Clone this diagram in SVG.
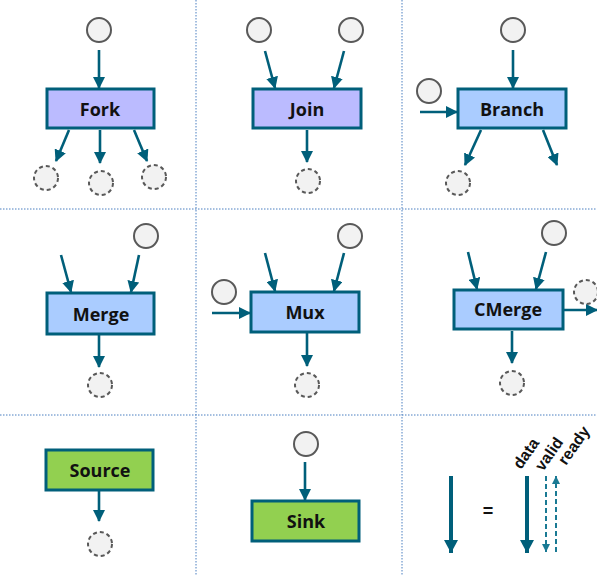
<svg xmlns="http://www.w3.org/2000/svg" width="597" height="575" viewBox="0 0 597 575">
<defs>
<style>
.grid{stroke:#4a7fc0;stroke-width:1;stroke-dasharray:1.5 1.5;fill:none}
.box{stroke:#005f7a;stroke-width:3}
.purple{fill:#bbbbff}
.blue{fill:#aaccff}
.green{fill:#92d050}
.lbl{font-family:"Open Sans","Noto Sans",sans-serif;font-weight:bold;font-size:18px;fill:#111;text-anchor:middle;dominant-baseline:central}
.in{fill:#f2f2f2;stroke:#595959;stroke-width:2}
.out{fill:#f2f2f2;stroke:#595959;stroke-width:2;stroke-dasharray:4 3}
.arr{stroke:#005f7a;stroke-width:2.6;fill:none;marker-end:url(#ah)}
.big{stroke:#005f7a;stroke-width:4;fill:none;marker-end:url(#bh)}
.dash{stroke:#1a7a94;stroke-width:2;stroke-dasharray:5 3;fill:none;marker-end:url(#sh)}
.leg{font-family:"Liberation Sans",Arial,sans-serif;font-weight:bold;font-size:16px;fill:#111}
</style>
<marker id="ah" markerUnits="userSpaceOnUse" markerWidth="12" markerHeight="12" viewBox="0 0 12 12" refX="11" refY="6" orient="auto"><path d="M0,0 L12,6 L0,12 Z" fill="#005f7a"/></marker>
<marker id="bh" markerUnits="userSpaceOnUse" markerWidth="14" markerHeight="14" viewBox="0 0 14 14" refX="13" refY="7" orient="auto"><path d="M0,0 L13,7 L0,14 Z" fill="#005f7a"/></marker>
<marker id="sh" markerUnits="userSpaceOnUse" markerWidth="8" markerHeight="8" viewBox="0 0 8 8" refX="8" refY="4" orient="auto"><path d="M0,0 L8,4 L0,8 Z" fill="#1a7a94"/></marker>
</defs>
<g id="grid">
<line class="grid" x1="196" y1="0" x2="196" y2="575"/>
<line class="grid" x1="402" y1="0" x2="402" y2="575"/>
<line class="grid" x1="0" y1="209" x2="597" y2="209"/>
<line class="grid" x1="0" y1="415" x2="597" y2="415"/>
</g>
<g id="connectors">
<line class="arr" x1="99" y1="50" x2="99" y2="88"/>
<line class="arr" x1="69" y1="130" x2="56" y2="161"/>
<line class="arr" x1="100" y1="130" x2="100" y2="163"/>
<line class="arr" x1="134" y1="130" x2="147" y2="161"/>
<line class="arr" x1="265" y1="51" x2="275" y2="88"/>
<line class="arr" x1="344" y1="51" x2="334" y2="88"/>
<line class="arr" x1="307" y1="130" x2="307" y2="162"/>
<line class="arr" x1="513" y1="50" x2="513" y2="88"/>
<line class="arr" x1="420" y1="112" x2="457" y2="112"/>
<line class="arr" x1="481" y1="130" x2="465" y2="165"/>
<line class="arr" x1="543" y1="130" x2="557" y2="165"/>
<line class="arr" x1="61" y1="255" x2="71" y2="292"/>
<line class="arr" x1="139" y1="255" x2="131" y2="292"/>
<line class="arr" x1="99" y1="335" x2="99" y2="367"/>
<line class="arr" x1="265" y1="253" x2="275" y2="291"/>
<line class="arr" x1="344" y1="253" x2="334" y2="291"/>
<line class="arr" x1="212" y1="313" x2="250" y2="313"/>
<line class="arr" x1="307" y1="333" x2="307" y2="366"/>
<line class="arr" x1="468" y1="252" x2="477" y2="289"/>
<line class="arr" x1="546" y1="252" x2="536" y2="289"/>
<line class="arr" x1="564" y1="310" x2="597" y2="310"/>
<line class="arr" x1="512" y1="331" x2="512" y2="363"/>
<line class="arr" x1="99" y1="491" x2="99" y2="521"/>
<line class="arr" x1="305" y1="462" x2="305" y2="500"/>
</g>
<g id="fork">
<circle class="in" cx="99" cy="30" r="12"/>
<rect class="box purple" x="47" y="89" width="107" height="39"/>
<text class="lbl" x="100" y="109">Fork</text>
<circle class="out" cx="46" cy="178" r="12"/>
<circle class="out" cx="101" cy="183" r="12"/>
<circle class="out" cx="154" cy="177" r="12"/>
</g>
<g id="join">
<circle class="in" cx="259" cy="30" r="12"/>
<circle class="in" cx="351" cy="30" r="12"/>
<rect class="box purple" x="253" y="89" width="108" height="39"/>
<text class="lbl" x="307" y="109">Join</text>
<circle class="out" cx="308" cy="181" r="12"/>
</g>
<g id="branch">
<circle class="in" cx="513" cy="30" r="12"/>
<circle class="in" cx="429" cy="91" r="12"/>
<rect class="box blue" x="458" y="89" width="108" height="39"/>
<text class="lbl" x="512" y="109">Branch</text>
<circle class="out" cx="458" cy="183" r="12"/>
</g>
<g id="merge">
<circle class="in" cx="146" cy="236" r="12"/>
<rect class="box blue" x="47" y="293" width="107" height="41"/>
<text class="lbl" x="101" y="314">Merge</text>
<circle class="out" cx="100" cy="385" r="12"/>
</g>
<g id="mux">
<circle class="in" cx="350" cy="236" r="12"/>
<circle class="in" cx="224" cy="292" r="12"/>
<rect class="box blue" x="251" y="292" width="108" height="40"/>
<text class="lbl" x="305" y="312">Mux</text>
<circle class="out" cx="307" cy="385" r="12"/>
</g>
<g id="cmerge">
<circle class="in" cx="554" cy="233" r="12"/>
<circle class="out" cx="586" cy="292" r="12"/>
<rect class="box blue" x="454" y="290" width="109" height="39"/>
<text class="lbl" x="508" y="309">CMerge</text>
<circle class="out" cx="512" cy="383" r="12"/>
</g>
<g id="source">
<rect class="box green" x="46" y="450" width="107" height="40"/>
<text class="lbl" x="100" y="470">Source</text>
<circle class="out" cx="100" cy="544" r="12"/>
</g>
<g id="sink">
<circle class="in" cx="306" cy="444" r="12"/>
<rect class="box green" x="252" y="501" width="107" height="40"/>
<text class="lbl" x="306" y="521">Sink</text>
</g>
<g id="legend">
<line class="big" x1="451" y1="476" x2="451" y2="553"/>
<text x="488" y="517" font-family="Liberation Sans,Arial,sans-serif" font-weight="bold" font-size="18" text-anchor="middle" fill="#111">=</text>
<line class="big" x1="527" y1="476" x2="527" y2="553"/>
<line class="dash" x1="546" y1="476" x2="546" y2="552"/>
<line class="dash" x1="556" y1="552" x2="556" y2="476"/>
<text class="leg" transform="translate(521,470) rotate(-55)">data</text>
<text class="leg" transform="translate(543,472) rotate(-55)">valid</text>
<text class="leg" transform="translate(566,466) rotate(-55)">ready</text>
</g>
</svg>
